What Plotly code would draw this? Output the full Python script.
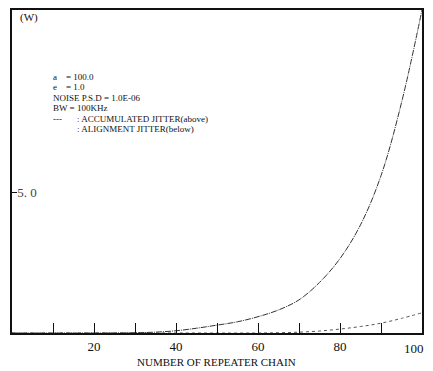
import plotly.graph_objects as go

# Accumulated jitter (above)
acc_x = [0, 10, 20, 30, 35, 40, 45, 50, 55, 60, 65, 70, 75, 80, 85, 90, 95, 100]
acc_y = [0.0, 0.0, 0.0, 0.01, 0.03, 0.08, 0.17, 0.28, 0.40, 0.58, 0.82, 1.18, 1.80, 2.65, 3.85, 5.6, 8.2, 11.5]

# Alignment jitter (below)
ali_x = [0, 20, 40, 60, 65, 70, 75, 80, 85, 90, 95, 100]
ali_y = [0.0, 0.0, 0.0, 0.0, 0.01, 0.03, 0.07, 0.14, 0.23, 0.35, 0.52, 0.72]

x_tickvals = [10, 20, 30, 40, 50, 60, 70, 80, 90, 100]
x_ticktext = ["", "20", "", "40", "", "60", "", "80", "", ""]
last_tick_label = "100"
y_tickvals = [5.0]
y_ticktext = ["5. 0"]

FONT = "Liberation Serif"

fig = go.Figure()
fig.add_trace(go.Scatter(x=acc_x, y=acc_y, mode="lines",
                         line=dict(color="#333333", width=1, dash="6px,1px,1px,1px", shape="spline"),
                         showlegend=False))
fig.add_trace(go.Scatter(x=ali_x, y=ali_y, mode="lines",
                         line=dict(color="#555555", width=1, dash="dot", shape="spline"),
                         showlegend=False))

# page body has an 8px margin, so the figure is drawn offset by (8, 8)
fig.update_layout(
    width=425, height=363,
    margin=dict(l=4, r=11, t=2, b=38),
    paper_bgcolor="white", plot_bgcolor="white",
    font=dict(family=FONT, color="#111111", size=12),
    xaxis=dict(range=[0, 100], tickvals=x_tickvals, ticktext=x_ticktext,
               ticks="inside", ticklen=10, tickcolor="#111111", tickwidth=1,
               showgrid=False, zeroline=False, showline=True, linecolor="#111111",
               linewidth=2, mirror=True, automargin=False,
               tickfont=dict(family=FONT, size=13)),
    yaxis=dict(range=[0, 11.5], tickvals=y_tickvals, ticktext=y_ticktext,
               ticks="inside", ticklen=5, tickcolor="#111111",
               ticklabelposition="inside", automargin=False,
               showgrid=False, zeroline=False, showline=True, linecolor="#111111",
               linewidth=1.5, mirror=True,
               tickfont=dict(family=FONT, size=13)),
)


def px2x(px):
    return (px - 12) / 4.1


def px2y(py):
    return (333 - py) / 28.1


# plot area spans figure y 2..325 (window 10..333)
def paper_y(window_y):
    return (333 - window_y) / 323


# last tick label, kept fully inside the window
fig.add_annotation(x=1.0, y=paper_y(348), xref="paper", yref="paper",
                   text=last_tick_label, showarrow=False, xshift=3,
                   xanchor="right", yanchor="middle", borderpad=0,
                   font=dict(family=FONT, size=13, color="#111111"))

# axis title
fig.add_annotation(x=(216 - 12) / 410, y=paper_y(362), xref="paper", yref="paper",
                   text="NUMBER OF REPEATER CHAIN", showarrow=False,
                   xanchor="center", yanchor="middle",
                   font=dict(family=FONT, size=11, color="#111111"))

notes = [
    (19, 17, "(W)", 11),
    (52, 76.5, "a", 9), (65, 76.5, "= 100.0", 9),
    (52, 87, "e", 9), (65, 87, "= 1.0", 9),
    (52, 97.5, "NOISE P.S.D = 1.0E-06", 9),
    (52, 108, "BW = 100KHz", 9),
    (52, 118.5, "---", 9), (76, 118.5, ": ACCUMULATED JITTER(above)", 9),
    (76, 129, ": ALIGNMENT JITTER(below)", 9),
]
for px, py, txt, sz in notes:
    fig.add_annotation(x=px2x(px), y=px2y(py), xref="x", yref="y", text=txt,
                       showarrow=False, xanchor="left", yanchor="middle", borderpad=0,
                       font=dict(family=FONT, size=sz, color="#111111"))

fig.write_html("out.html")
